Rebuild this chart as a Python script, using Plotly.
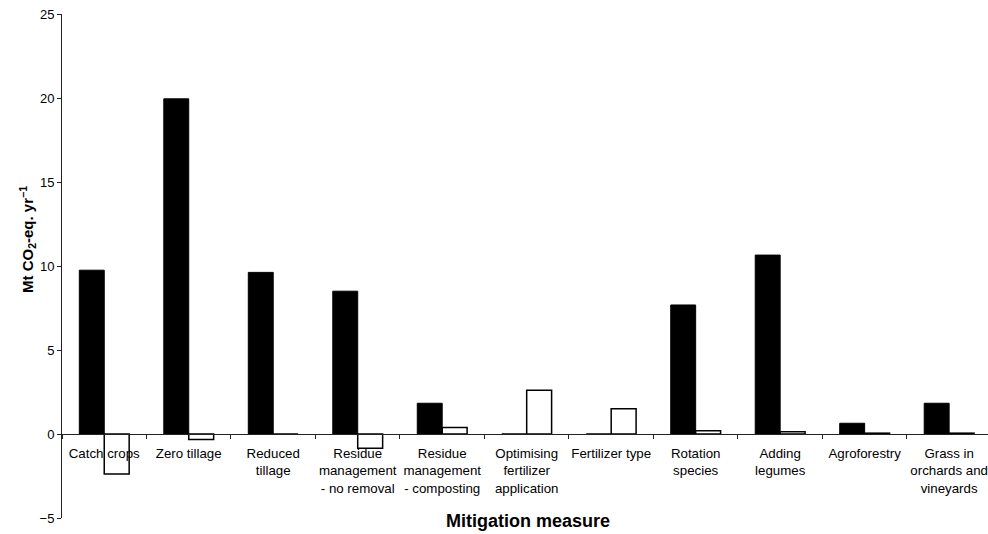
import plotly.graph_objects as go

categories = [
    "Catch crops", "Zero tillage", "Reduced<br>tillage",
    "Residue<br>management<br>- no removal", "Residue<br>management<br>- composting",
    "Optimising<br>fertilizer<br>application", "Fertilizer type", "Rotation<br>species",
    "Adding<br>legumes", "Agroforestry", "Grass in<br>orchards and<br>vineyards",
]
black_values = [9.75, 19.95, 9.62, 8.5, 1.83, 0, 0, 7.68, 10.65, 0.64, 1.83]
white_values = [-2.38, -0.32, 0, -0.85, 0.38, 2.6, 1.5, 0.2, 0.14, 0.05, 0.05]
y_ticks = [-5, 0, 5, 10, 15, 20, 25]

FONT = "Liberation Sans, Arial, sans-serif"

fig = go.Figure()
fig.add_trace(go.Bar(x=categories, y=black_values, marker=dict(color="black", line=dict(color="black", width=1)),
                     showlegend=False))
fig.add_trace(go.Bar(x=categories, y=white_values, marker=dict(color="white", line=dict(color="black", width=1.5)),
                     showlegend=False))

fig.update_layout(
    width=988, height=534,
    margin=dict(l=62, r=0, t=14, b=16, autoexpand=False),
    paper_bgcolor="white", plot_bgcolor="white",
    barmode="group", bargap=0.41, bargroupgap=0,
    font=dict(family=FONT, size=13, color="black"),
    xaxis=dict(
        type="category", range=[-0.5, 10.46],
        anchor="free", position=5 / 30,
        showline=True, linecolor="#222", linewidth=1,
        ticks="outside", tickson="boundaries", ticklen=4, tickcolor="#222",
        showgrid=False, zeroline=False, tickangle=0, automargin=False,
        ticklabelstandoff=7,
        tickfont=dict(family=FONT, size=13.3, color="black"),
    ),
    yaxis=dict(
        range=[-5, 25], tickvals=y_ticks,
        showline=True, linecolor="#222", linewidth=1,
        ticks="outside", ticklen=4, tickcolor="#222",
        showgrid=False, zeroline=False, automargin=False,
        tickfont=dict(family=FONT, size=13, color="black"),
    ),
    annotations=[
        dict(text="<b>Mitigation measure</b>", xref="paper", yref="paper",
             x=(528 - 62) / 926, y=-(521 - 518) / 504, xanchor="center", yanchor="middle",
             showarrow=False, font=dict(family=FONT, size=18, color="black")),
        dict(text="<b>Mt CO<sub>2</sub>-eq. yr<sup>−1</sup></b>", xref="paper", yref="paper",
             x=-(62 - 28) / 926, y=(518 - 240) / 504, xanchor="center", yanchor="middle",
             textangle=-90, showarrow=False, font=dict(family=FONT, size=15, color="black")),
    ],
)

fig.write_html("out.html")
